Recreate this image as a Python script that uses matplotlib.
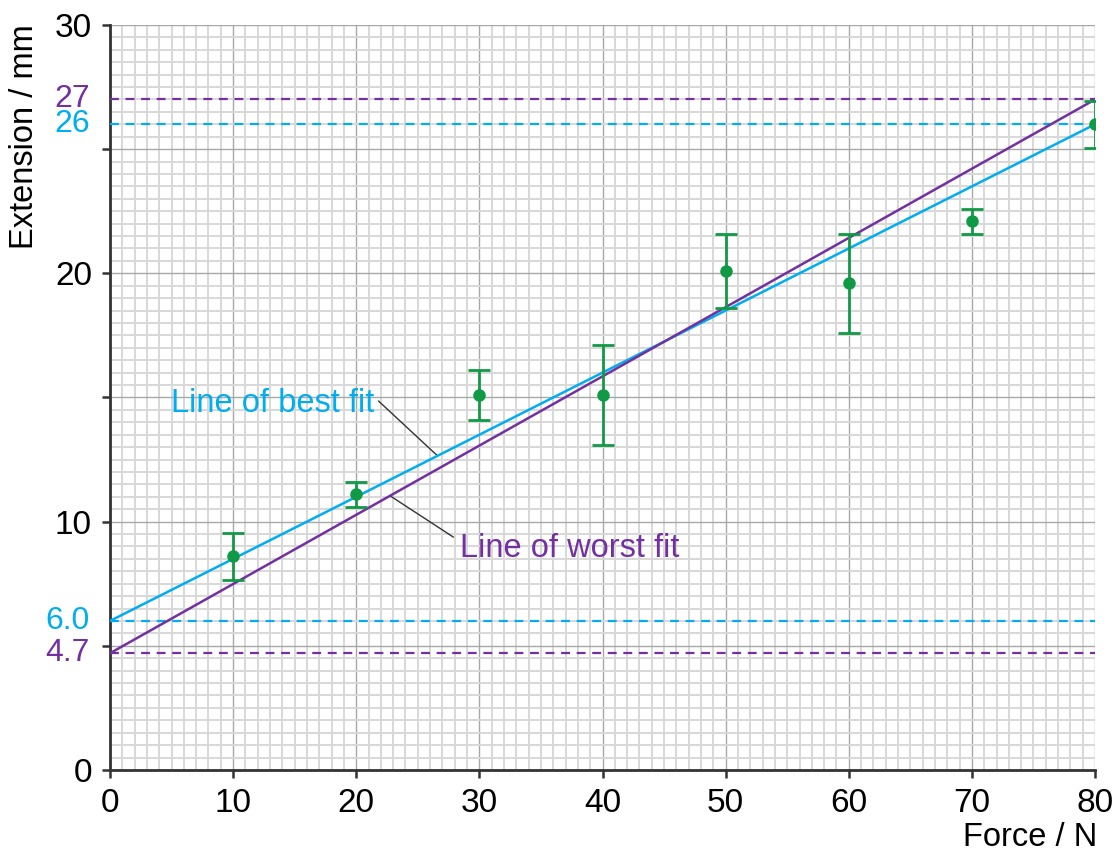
import numpy as np
import matplotlib
matplotlib.use("Agg")
import matplotlib.pyplot as plt
from matplotlib.ticker import MultipleLocator

# ---- Data ----
force = [10, 20, 30, 40, 50, 60, 70, 80]
extension = [8.6, 11.1, 15.1, 15.1, 20.1, 19.6, 22.1, 26.0]
err = [0.95, 0.5, 1.0, 2.0, 1.5, 2.0, 0.5, 0.95]

best_x = [0, 80]
best_y = [6.0, 26.0]
worst_x = [0, 80]
worst_y = [4.7, 27.0]

y_tick_vals = [0, 5, 10, 15, 20, 25, 30]
y_tick_labels = ["0", "", "10", "", "20", "", "30"]
x_tick_vals = [0, 10, 20, 30, 40, 50, 60, 70, 80]

# colored reference levels: (value, label, colour)
CYAN = "#00AEEF"
PURPLE = "#7330A0"
GREEN = "#109A45"
levels = [(27.0, "27", PURPLE), (26.0, "26", CYAN),
          (6.0, "6.0", CYAN), (4.7, "4.7", PURPLE)]

plt.rcParams["font.family"] = ["Liberation Sans", "DejaVu Sans"]
FS = 24

fig = plt.figure(figsize=(11.14, 8.58), dpi=100)
ax = fig.add_axes([0.0987, 0.1026, 0.8843, 0.8683])

# ---- grid ----
ax.set_xlim(0, 80)
ax.set_ylim(0, 30)
ax.xaxis.set_minor_locator(MultipleLocator(1))
ax.yaxis.set_minor_locator(MultipleLocator(0.5))
ax.set_xticks(x_tick_vals)
ax.set_yticks(y_tick_vals, labels=y_tick_labels)
ax.grid(which="minor", color="#d8d8d8", lw=1.4)
ax.grid(which="major", color="#a8a8a8", lw=1.0)
ax.set_axisbelow(True)

# ---- dashed levels ----
for val, lab, col in levels:
    ax.plot([0, 80], [val, val], ls=(0, (4, 3)), color=col, lw=1.6, zorder=3)
    ax.annotate(lab, xy=(0, val), xycoords=("axes fraction", "data"),
                xytext=(-14.5, 0), textcoords="offset points",
                ha="right", va="center", fontsize=FS - 1, color=col)

# ---- fit lines ----
ax.plot(best_x, best_y, color=CYAN, lw=1.8, zorder=4)
ax.plot(worst_x, worst_y, color=PURPLE, lw=1.8, zorder=4)

# ---- data with error bars ----
ax.errorbar(force, extension, yerr=err, fmt="o", color=GREEN, ms=8,
            elinewidth=2, capsize=8, capthick=2, zorder=5)

# ---- labels for lines ----
ax.annotate("Line of best fit", xy=(26.6, 12.65), xytext=(21.5, 14.75),
            ha="right", va="center", fontsize=FS - 0.5, color=CYAN,
            arrowprops=dict(arrowstyle="-", color="#333333", lw=1,
                            shrinkA=1, shrinkB=0, relpos=(1.0, 0.7)))
ax.annotate("Line of worst fit", xy=(22.75, 11.04), xytext=(28.4, 8.9),
            ha="left", va="center", fontsize=FS - 0.5, color=PURPLE,
            arrowprops=dict(arrowstyle="-", color="#333333", lw=1,
                            shrinkA=3, shrinkB=0, relpos=(0.0, 0.75)))

# ---- axes style ----
for s in ("top", "right"):
    ax.spines[s].set_visible(False)
for s in ("left", "bottom"):
    ax.spines[s].set_color("#333333")
    ax.spines[s].set_linewidth(2)
ax.tick_params(which="major", direction="out", length=6, width=1.8,
               color="#333333", labelsize=FS, pad=7)
ax.tick_params(which="minor", length=0)

fig.text(0.0224, 0.972, "Extension / mm", rotation=90, ha="center", va="top",
         fontsize=FS - 0.5)
fig.text(0.985, 0.006, "Force / N", ha="right", va="bottom", fontsize=FS - 0.5)

fig.savefig("out.png", dpi=100)
